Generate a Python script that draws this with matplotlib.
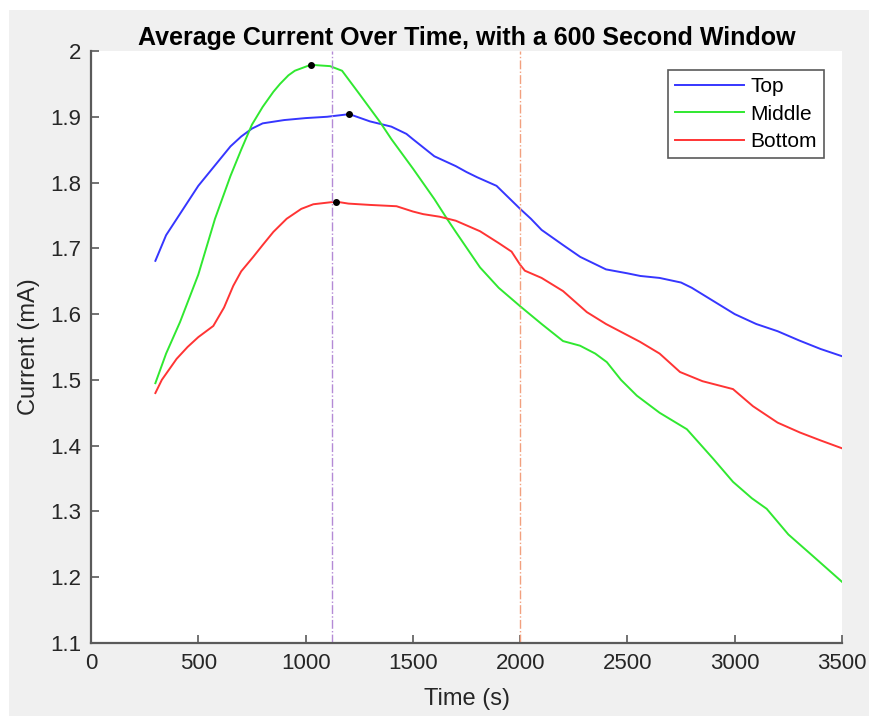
import matplotlib
matplotlib.use('Agg')
import matplotlib.pyplot as plt
from matplotlib.patches import Rectangle
import numpy as np

plt.rcParams['font.family'] = ['Liberation Sans', 'DejaVu Sans']

# Top
top_t = [300, 350, 400, 450, 500, 550, 600, 650, 700, 750, 800, 900, 1000, 1100,
         1204, 1300, 1350, 1400, 1470, 1500, 1600, 1700, 1750, 1800, 1890, 2000,
         2050, 2100, 2200, 2280, 2400, 2500, 2560, 2650, 2750, 2800, 2900, 2960,
         3000, 3100, 3200, 3300, 3400, 3500]
top_i = [1.681, 1.720, 1.745, 1.770, 1.795, 1.815, 1.835, 1.855, 1.870, 1.882, 1.890,
         1.895, 1.898, 1.900, 1.904, 1.893, 1.889, 1.885, 1.874, 1.866, 1.840, 1.825,
         1.816, 1.808, 1.795, 1.760, 1.745, 1.728, 1.705, 1.687, 1.668, 1.662, 1.658,
         1.655, 1.648, 1.640, 1.620, 1.608, 1.600, 1.585, 1.574, 1.560, 1.547, 1.536]

# Middle
mid_t = [300, 350, 415, 500, 578, 650, 700, 750, 800, 850, 881, 920, 950, 1024, 1114,
         1170, 1250, 1347, 1400, 1501, 1600, 1659, 1700, 1813, 1900, 2000, 2100, 2200,
         2279, 2350, 2404, 2470, 2544, 2650, 2777, 2900, 2992, 3080, 3149, 3250,
         3365, 3500]
mid_i = [1.495, 1.540, 1.588, 1.660, 1.745, 1.810, 1.850, 1.888, 1.915, 1.938, 1.950,
         1.963, 1.970, 1.979, 1.977, 1.970, 1.935, 1.892, 1.866, 1.821, 1.775, 1.745,
         1.725, 1.671, 1.640, 1.612, 1.585, 1.559, 1.552, 1.540, 1.527, 1.500, 1.476,
         1.450, 1.425, 1.380, 1.345, 1.320, 1.304, 1.265, 1.232, 1.193]

# Bottom
bot_t = [300, 330, 399, 450, 500, 570, 620, 663, 700, 756, 800, 850, 912, 980, 1036,
         1142, 1200, 1300, 1424, 1500, 1548, 1626, 1700, 1813, 1900, 1960, 2000, 2022,
         2100, 2200, 2311, 2400, 2558, 2650, 2745, 2850, 2992, 3085, 3200, 3304, 3400,
         3500]
bot_i = [1.480, 1.500, 1.532, 1.550, 1.565, 1.582, 1.610, 1.643, 1.665, 1.687, 1.705,
         1.725, 1.745, 1.760, 1.767, 1.771, 1.768, 1.766, 1.764, 1.756, 1.752, 1.748,
         1.742, 1.726, 1.708, 1.695, 1.675, 1.666, 1.655, 1.635, 1.603, 1.585, 1.558,
         1.540, 1.512, 1.498, 1.486, 1.460, 1.435, 1.420, 1.408, 1.396]

peak_t = [1204, 1024, 1142]
peak_i = [1.904, 1.979, 1.771]
cutoff = 2000

fig = plt.figure(figsize=(8.69, 7.16), dpi=100)
fig.patch.set_facecolor('white')
fig.add_artist(Rectangle((9/869, 0), 1 - 9/869, 1 - 10/716, transform=fig.transFigure,
                         facecolor='#f0f0f0', edgecolor='none', zorder=-10))

ax = fig.add_axes([91/869, (716-643)/716, 751/869, 592/716])
ax.set_facecolor('white')

ax.plot(top_t, top_i, color='#3636ff', lw=1.4, label='Top')
ax.plot(mid_t, mid_i, color='#30e830', lw=1.4, label='Middle')
ax.plot(bot_t, bot_i, color='#ff3434', lw=1.4, label='Bottom')
ax.plot(peak_t, peak_i, 'k.', ms=8)

# mean of the three peak times, and the 2000 s mark
ax.axvline(np.mean(peak_t), color='#b48ad6', ls='-.', lw=1.0)
ax.axvline(cutoff, color='#f2a07e', ls='-.', lw=1.0)

ax.set_xlim(0, 3500)
ax.set_ylim(1.1, 2)
ax.set_xticks(np.arange(0, 3501, 500))
ax.set_yticks(np.arange(1.1, 2.01, 0.1))
ax.set_yticklabels(['1.1', '1.2', '1.3', '1.4', '1.5', '1.6', '1.7', '1.8', '1.9', '2'])

for s in ['top', 'right']:
    ax.spines[s].set_visible(False)
for s in ['left', 'bottom']:
    ax.spines[s].set_color('#5a5a5a')
    ax.spines[s].set_linewidth(1.6)
ax.tick_params(direction='in', length=6, width=1.2, color='#5a5a5a',
               labelsize=16, labelcolor='#262626', pad=7)

ax.set_xlabel('Time (s)', fontsize=17, color='#262626', labelpad=10)
ax.set_ylabel('Current (mA)', fontsize=17, color='#262626', labelpad=7)
ax.set_title('Average Current Over Time, with a 600 Second Window',
             fontsize=18, fontweight='bold', pad=4)

leg = ax.legend(loc='upper right', bbox_to_anchor=(0.976, 0.968), borderaxespad=0,
                fontsize=15, fancybox=False, framealpha=1, edgecolor='#5a5a5a',
                handlelength=3.3, handletextpad=0.3, labelspacing=0.4,
                borderpad=0.35)
leg.get_frame().set_linewidth(1.2)

fig.savefig('out.png', dpi=100)
